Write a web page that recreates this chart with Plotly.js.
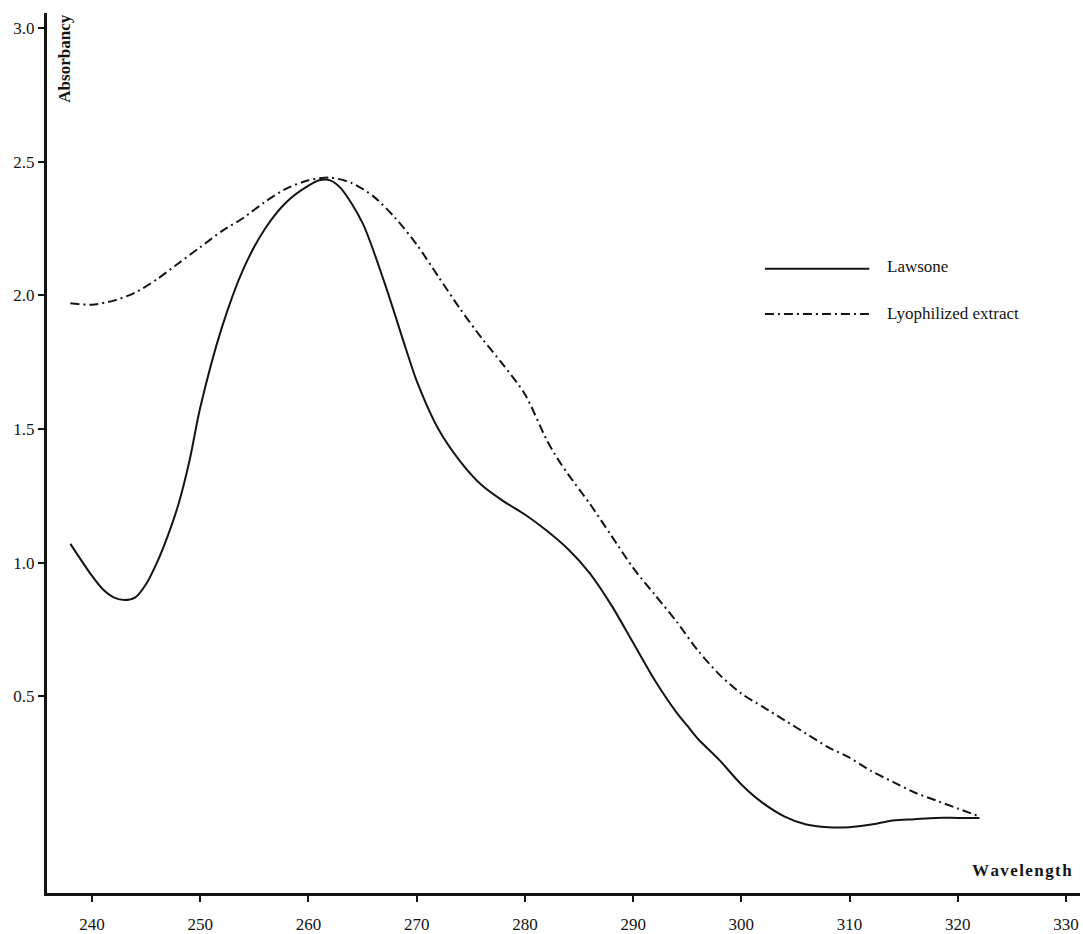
<!DOCTYPE html>
<html>
<head>
<meta charset="utf-8">
<script src="https://cdn.plot.ly/plotly-3.0.1.min.js"></script>
<style>html,body{margin:0;padding:0;background:#fff;}#chart{width:1083px;height:934px;}</style>
</head>
<body>
<div id="chart"></div>
<script>
// Wavelength (nm) and absorbancy readings
var lawsoneX = [238, 240, 241, 242, 243, 244, 245, 246, 247, 248, 249, 250, 252, 254, 256, 258, 260, 261, 262, 263, 265, 267, 269, 270, 272, 274, 276, 278, 280, 282, 284, 286, 288, 290, 292, 294, 295, 296, 298, 300, 302, 304, 306, 308, 310, 312, 314, 316, 318, 320, 322];
var lawsoneY = [1.07, 0.95, 0.90, 0.87, 0.86, 0.87, 0.92, 1.00, 1.10, 1.22, 1.38, 1.58, 1.88, 2.10, 2.25, 2.35, 2.41, 2.43, 2.43, 2.40, 2.27, 2.05, 1.80, 1.68, 1.50, 1.38, 1.29, 1.23, 1.18, 1.12, 1.05, 0.96, 0.84, 0.70, 0.56, 0.44, 0.39, 0.34, 0.26, 0.17, 0.10, 0.05, 0.02, 0.01, 0.01, 0.02, 0.035, 0.04, 0.045, 0.045, 0.045];

var extractX = [238, 240, 242, 244, 246, 248, 250, 252, 254, 256, 258, 260, 262, 264, 266, 268, 270, 272, 274, 276, 278, 280, 282, 283, 284, 286, 288, 290, 292, 294, 296, 298, 300, 302, 304, 306, 308, 310, 312, 314, 316, 318, 320, 322];
var extractY = [1.97, 1.965, 1.98, 2.01, 2.06, 2.12, 2.18, 2.24, 2.29, 2.35, 2.40, 2.43, 2.44, 2.42, 2.37, 2.29, 2.19, 2.07, 1.95, 1.84, 1.74, 1.63, 1.46, 1.39, 1.33, 1.22, 1.10, 0.98, 0.88, 0.78, 0.67, 0.58, 0.51, 0.46, 0.41, 0.36, 0.31, 0.27, 0.22, 0.18, 0.14, 0.11, 0.08, 0.05];

var xTicks = [240, 250, 260, 270, 280, 290, 300, 310, 320, 330];
var yTicks = [0.5, 1.0, 1.5, 2.0, 2.5, 3.0];
var yTickText = ['0.5', '1.0', '1.5', '2.0', '2.5', '3.0'];
var seriesNames = ['Lawsone', 'Lyophilized extract'];

var serif = 'Liberation Serif, Times New Roman, serif';
var ink = '#141414';
var dashDot = '9px,4px,2px,4px';

var traces = [
  {x: lawsoneX, y: lawsoneY, name: seriesNames[0], mode: 'lines', line: {color: ink, width: 2, shape: 'spline', smoothing: 0.8}, showlegend: false},
  {x: extractX, y: extractY, name: seriesNames[1], mode: 'lines', line: {color: ink, width: 2, shape: 'spline', smoothing: 0.8, dash: dashDot}, showlegend: false}
];

var layout = {
  width: 1083, height: 934,
  margin: {l: 47, r: 3, t: 13, b: 41},
  paper_bgcolor: '#ffffff', plot_bgcolor: '#ffffff',
  showlegend: false,
  xaxis: {
    range: [235.84, 331.29], tickvals: xTicks, ticktext: xTicks.map(String),
    showgrid: false, zeroline: false, showline: true, linecolor: ink, linewidth: 3,
    ticks: 'outside', ticklen: 6, tickwidth: 2, tickcolor: ink,
    ticklabelstandoff: 8, ticklabeloverflow: 'allow',
    tickfont: {family: serif, size: 17, color: ink}
  },
  yaxis: {
    range: [-0.236, 3.056], tickvals: yTicks, ticktext: yTickText,
    showgrid: false, zeroline: false, showline: true, linecolor: ink, linewidth: 3,
    ticks: 'outside', ticklen: 6, tickwidth: 2, tickcolor: ink,
    ticklabelstandoff: 0, ticklabeloverflow: 'allow',
    tickfont: {family: serif, size: 17, color: ink}
  },
  annotations: [
    {text: '<b>Absorbancy</b>', xref: 'paper', yref: 'paper', x: 0.005, y: 1.0, xanchor: 'left', yanchor: 'top', textangle: -90, showarrow: false, font: {family: serif, size: 17, color: ink}},
    {text: '<b>W a v e l e n g t h</b>'.replace(/ /g, '\u200A'), xref: 'paper', yref: 'paper', x: 0.994, y: 0.012, xanchor: 'right', yanchor: 'bottom', showarrow: false, font: {family: serif, size: 17, color: ink}},
    {text: seriesNames[0], xref: 'paper', yref: 'paper', x: 0.8115, y: 0.7125, xanchor: 'left', yanchor: 'middle', showarrow: false, font: {family: serif, size: 17, color: ink}},
    {text: seriesNames[1], xref: 'paper', yref: 'paper', x: 0.8115, y: 0.6590, xanchor: 'left', yanchor: 'middle', showarrow: false, font: {family: serif, size: 17, color: ink}}
  ],
  shapes: [
    {type: 'line', xref: 'paper', yref: 'paper', x0: 0.695, x1: 0.796, y0: 0.7095, y1: 0.7095, line: {color: ink, width: 2}},
    {type: 'line', xref: 'paper', yref: 'paper', x0: 0.695, x1: 0.796, y0: 0.6580, y1: 0.6580, line: {color: ink, width: 2, dash: dashDot}}
  ]
};

Plotly.newPlot('chart', traces, layout, {displayModeBar: false, staticPlot: true});
</script>
</body>
</html>
